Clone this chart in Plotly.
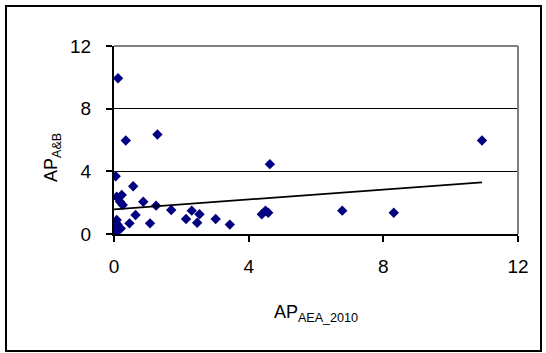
import numpy as np
import plotly.graph_objects as go

# AP_AEA_2010 (x) and AP_A&B (y) values
ap_aea_2010 = [0.12, 0.35, 1.29, 10.93, 4.63, 0.05, 0.57, 0.08, 0.23, 0.18, 0.26,
               0.87, 1.25, 1.70, 0.64, 0.46, 1.07, 2.14, 2.31, 2.47, 2.54, 3.02,
               3.44, 4.39, 4.50, 4.58, 6.78, 8.31,
               0.08, 0.03, 0.05, 0.10, 0.02, 0.15, 0.12, 0.20, 0.06]
ap_ab = [9.94, 5.97, 6.35, 5.97, 4.46, 3.69, 3.05, 2.38, 2.49, 2.06, 1.85,
         2.06, 1.81, 1.53, 1.21, 0.68, 0.68, 0.96, 1.49, 0.72, 1.26, 0.96,
         0.60, 1.26, 1.49, 1.36, 1.49, 1.36,
         0.89, 0.20, 0.40, 0.60, 0.10, 0.30, 0.45, 0.35, 0.70]

# linear trendline as drawn in the picture
trend_intercept = 1.57
trend_slope = 0.158

x_ticks = [0, 4, 8, 12]
y_ticks = [0, 4, 8, 12]

x = np.array(ap_aea_2010)
y = np.array(ap_ab)
tx = np.array([0.0, x.max()])
ty = trend_intercept + trend_slope * tx

fig = go.Figure()
fig.add_trace(go.Scatter(x=x, y=y, mode="markers",
                         marker=dict(symbol="diamond", size=8, color="#000080",
                                     line=dict(width=0)),
                         showlegend=False, hoverinfo="skip"))
fig.add_trace(go.Scatter(x=tx, y=ty, mode="lines",
                         line=dict(color="black", width=1.8),
                         showlegend=False, hoverinfo="skip"))

FAM = "Liberation Sans, Arial, sans-serif"
font = dict(family=FAM, size=18, color="black")
tickfont = dict(family=FAM, size=19, color="black")

fig.update_layout(
    width=546, height=353,
    margin=dict(l=114, r=28, t=46, b=119),
    paper_bgcolor="white", plot_bgcolor="white",
    font=font,
    xaxis=dict(range=[0, 12], tickvals=x_ticks, showgrid=False, zeroline=False,
               showline=True, linecolor="black", linewidth=2,
               ticks="outside", ticklen=6, tickwidth=2, tickcolor="black",
               ticklabelstandoff=8, tickfont=tickfont,
               title=dict(text="AP<sub>AEA_2010</sub>", font=font, standoff=30)),
    yaxis=dict(range=[0, 12], tickvals=y_ticks, showgrid=True, gridcolor="black",
               gridwidth=1, zeroline=False,
               showline=True, linecolor="black", linewidth=2,
               ticks="outside", ticklen=6, tickwidth=2, tickcolor="black",
               ticklabelstandoff=11, tickfont=tickfont),
    annotations=[
        dict(text="AP<sub>A&amp;B</sub>", xref="paper", yref="paper",
             x=(52 - 114) / 404, y=(234 - 158) / 188, textangle=-90,
             showarrow=False, font=font, xanchor="center", yanchor="middle"),
    ],
    shapes=[
        dict(type="line", xref="paper", yref="paper", x0=0, x1=1, y0=1, y1=1,
             line=dict(color="#808080", width=2)),
        dict(type="line", xref="paper", yref="paper", x0=1, x1=1, y0=0, y1=1,
             line=dict(color="#808080", width=2)),
        dict(type="rect", xref="paper", yref="paper",
             x0=(6 - 114) / 404, x1=(541 - 114) / 404,
             y0=(234 - 351) / 188, y1=(234 - 6) / 188,
             line=dict(color="black", width=2), fillcolor="rgba(0,0,0,0)",
             layer="above"),
    ],
)

# make sure the rotation of the y title is honoured as a CSS transform too
js = """
document.querySelectorAll('.annotation-text-g').forEach(function(e){
  var t = e.getAttribute('transform') || '';
  var m = t.match(/rotate\\(([-\\d.]+),([-\\d.]+),([-\\d.]+)\\)/);
  if (m) {
    e.style.setProperty('transform-box', 'view-box', 'important');
    e.style.setProperty('transform-origin', m[2] + 'px ' + m[3] + 'px', 'important');
    e.style.setProperty('transform', 'rotate(' + m[1] + 'deg)', 'important');
  }
});
"""
fig.write_html("out.html", post_script=js)
